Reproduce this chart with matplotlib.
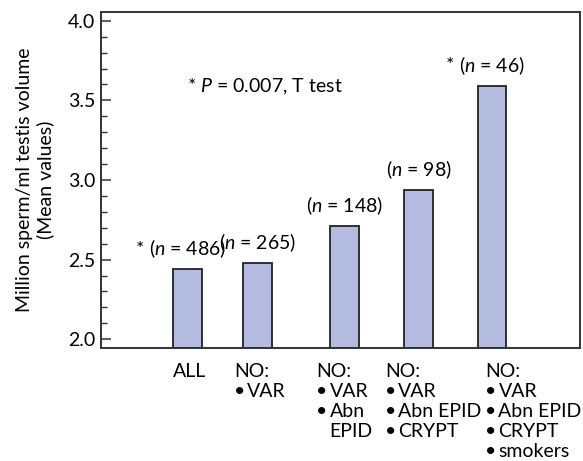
import matplotlib
matplotlib.use('Agg')
from matplotlib import pyplot as plt
from matplotlib.ticker import MultipleLocator

plt.rcParams['font.family'] = ['Lato', 'DejaVu Sans']
plt.rcParams['mathtext.fontset'] = 'custom'
plt.rcParams['mathtext.rm'] = 'Lato'
plt.rcParams['mathtext.it'] = 'Lato:italic'

# data
groups = ['ALL', 'NO: VAR', 'NO: VAR, Abn EPID', 'NO: VAR, Abn EPID, CRYPT',
          'NO: VAR, Abn EPID, CRYPT, smokers']
mean_values = [2.44, 2.48, 2.71, 2.94, 3.59]
n_values = [486, 265, 148, 98, 46]
significant = [True, False, False, False, True]
group_lines = [
    [('', 'ALL')],
    [('', 'NO:'), ('•', 'VAR')],
    [('', 'NO:'), ('•', 'VAR'), ('•', 'Abn'), (' ', 'EPID')],
    [('', 'NO:'), ('•', 'VAR'), ('•', 'Abn EPID'), ('•', 'CRYPT')],
    [('', 'NO:'), ('•', 'VAR'), ('•', 'Abn EPID'), ('•', 'CRYPT'), ('•', 'smokers')],
]
p_text = '* $P$ = 0.007, T test'

# layout
x_pos = [0, 0.93, 2.09, 3.08, 4.06]
label_left = [-0.19, 0.62, 1.72, 2.63, 3.97]
y_min, y_max = 1.945, 4.055
fs = 14

fig = plt.figure(figsize=(5.83, 4.61), dpi=100)
ax = fig.add_axes([0.1732, 0.2451, 0.8217, 0.7289])

ax.bar(x_pos, [m - y_min for m in mean_values], bottom=y_min, width=0.385,
       color='#b3bce0', edgecolor='#222222', linewidth=1.3, zorder=2)

ax.set_xlim(-1.153, 5.233)
ax.set_ylim(y_min, y_max)
ax.set_xticks([])
ax.yaxis.set_major_locator(MultipleLocator(0.5))
ax.yaxis.set_minor_locator(MultipleLocator(0.1))
ax.yaxis.set_major_formatter(plt.FormatStrFormatter('%.1f'))
ax.tick_params(axis='y', which='major', direction='in', length=7, width=1.1,
               labelsize=fs, pad=4, color='#333333')
ax.tick_params(axis='y', which='minor', direction='in', length=4.5, width=1.0,
               color='#333333')
for sp in ax.spines.values():
    sp.set_linewidth(1.4)
    sp.set_color('#333333')

ax.set_ylabel('Million sperm/ml testis volume\n(Mean values)', fontsize=fs,
              linespacing=1.2, labelpad=10)

fig.canvas.draw()
renderer = fig.canvas.get_renderer()

for x, m, n, star in zip(x_pos, mean_values, n_values, significant):
    t = ax.annotate('($n$ = %d)' % n, xy=(x, m), xytext=(0, 14.5),
                    textcoords='offset points', ha='center', va='center',
                    fontsize=fs)
    if star:
        bb = t.get_window_extent(renderer)
        x0 = ax.transData.inverted().transform((bb.x0, bb.y0))[0]
        ax.annotate('*', xy=(x0, m), xytext=(-3.5, 14.5),
                    textcoords='offset points', ha='right', va='center',
                    fontsize=fs)

ax.text(0.0, 3.584, p_text, ha='left', va='center', fontsize=fs)

trans = ax.get_xaxis_transform()
for left, lines in zip(label_left, group_lines):
    for i, (bullet, txt) in enumerate(lines):
        y_off = -10.5 - i * 14.4
        if bullet:
            ax.annotate(bullet.strip(), xy=(left, 0), xycoords=trans,
                        xytext=(0, y_off), textcoords='offset points',
                        ha='left', va='top', fontsize=fs, annotation_clip=False)
            ax.annotate(txt, xy=(left, 0), xycoords=trans,
                        xytext=(9.5, y_off), textcoords='offset points',
                        ha='left', va='top', fontsize=fs, annotation_clip=False)
        else:
            ax.annotate(txt, xy=(left, 0), xycoords=trans,
                        xytext=(0, y_off), textcoords='offset points',
                        ha='left', va='top', fontsize=fs, annotation_clip=False)

fig.savefig('out.png', dpi=100)
